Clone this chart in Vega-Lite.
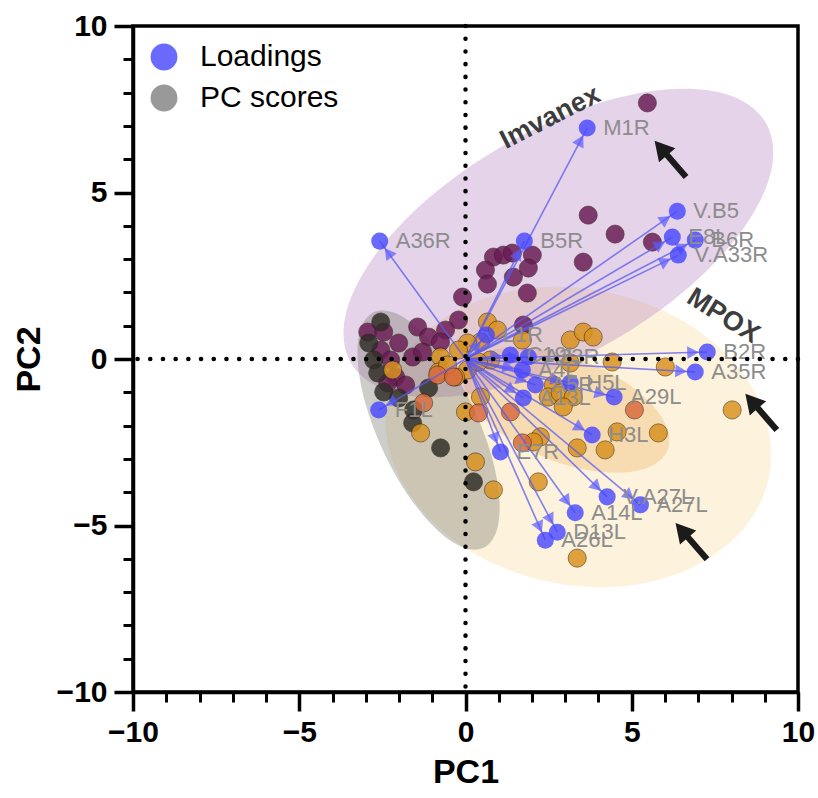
{
  "$schema": "https://vega.github.io/schema/vega-lite/v6.json",
  "width": 665,
  "height": 666,
  "autosize": {"type": "none"},
  "padding": {"left": 133, "top": 26, "right": 20, "bottom": 106},
  "background": "white",
  "config": {
    "font": "Liberation Sans",
    "view": {"stroke": "black", "strokeWidth": 3.5},
    "axis": {"grid": false, "domainColor": "black", "domainWidth": 3.5, "tickColor": "black", "tickWidth": 3, "labelColor": "black", "titleColor": "black"}
  },
  "datasets": {
    "ellPurple": [
      {"i": 0, "x": 9.034, "y": 7.087}, {"i": 1, "x": 7.916, "y": 7.929}, {"i": 2, "x": 6.016, "y": 8.090}, {"i": 3, "x": 3.629, "y": 7.555},
      {"i": 4, "x": 1.111, "y": 6.396}, {"i": 5, "x": -1.151, "y": 4.795}, {"i": 6, "x": -2.808, "y": 2.994}, {"i": 7, "x": -3.618, "y": 1.269},
      {"i": 8, "x": -3.448, "y": -0.121}, {"i": 9, "x": -2.330, "y": -0.963}, {"i": 10, "x": -0.430, "y": -1.124}, {"i": 11, "x": 1.957, "y": -0.589},
      {"i": 12, "x": 4.475, "y": 0.570}, {"i": 13, "x": 6.737, "y": 2.171}, {"i": 14, "x": 8.394, "y": 3.972}, {"i": 15, "x": 9.204, "y": 5.697}
    ],
    "ellYellow": [
      {"i": 0, "x": 9.124, "y": -3.561}, {"i": 1, "x": 9.042, "y": -1.805}, {"i": 2, "x": 8.098, "y": -0.134}, {"i": 3, "x": 6.441, "y": 1.203},
      {"i": 4, "x": 4.316, "y": 2.000}, {"i": 5, "x": 2.051, "y": 2.137}, {"i": 6, "x": -0.006, "y": 1.590}, {"i": 7, "x": -1.548, "y": 0.447},
      {"i": 8, "x": -2.338, "y": -1.123}, {"i": 9, "x": -2.256, "y": -2.879}, {"i": 10, "x": -1.312, "y": -4.550}, {"i": 11, "x": 0.345, "y": -5.887},
      {"i": 12, "x": 2.470, "y": -6.684}, {"i": 13, "x": 4.735, "y": -6.821}, {"i": 14, "x": 6.792, "y": -6.274}, {"i": 15, "x": 8.334, "y": -5.131}
    ],
    "ellOrange": [
      {"i": 0, "x": 6.077, "y": -2.733}, {"i": 1, "x": 6.065, "y": -2.086}, {"i": 2, "x": 5.590, "y": -1.354}, {"i": 3, "x": 4.728, "y": -0.649},
      {"i": 4, "x": 3.606, "y": -0.079}, {"i": 5, "x": 2.396, "y": 0.271}, {"i": 6, "x": 1.286, "y": 0.344}, {"i": 7, "x": 0.439, "y": 0.134},
      {"i": 8, "x": -0.011, "y": -0.331}, {"i": 9, "x": 0.001, "y": -0.978}, {"i": 10, "x": 0.476, "y": -1.710}, {"i": 11, "x": 1.338, "y": -2.415},
      {"i": 12, "x": 2.460, "y": -2.985}, {"i": 13, "x": 3.670, "y": -3.335}, {"i": 14, "x": 4.780, "y": -3.408}, {"i": 15, "x": 5.627, "y": -3.198}
    ],
    "ellGrey": [
      {"i": 0, "x": 0.540, "y": -5.669}, {"i": 1, "x": 0.936, "y": -5.157}, {"i": 2, "x": 1.018, "y": -4.184}, {"i": 3, "x": 0.779, "y": -2.900},
      {"i": 4, "x": 0.250, "y": -1.497}, {"i": 5, "x": -0.485, "y": -0.190}, {"i": 6, "x": -1.316, "y": 0.818}, {"i": 7, "x": -2.116, "y": 1.379},
      {"i": 8, "x": -2.762, "y": 1.405}, {"i": 9, "x": -3.158, "y": 0.893}, {"i": 10, "x": -3.240, "y": -0.080}, {"i": 11, "x": -3.001, "y": -1.364},
      {"i": 12, "x": -2.472, "y": -2.767}, {"i": 13, "x": -1.737, "y": -4.074}, {"i": 14, "x": -0.906, "y": -5.082}, {"i": 15, "x": -0.106, "y": -5.643}
    ],
    "loadings": [
      {"name": "M1R", "x": 3.66, "y": 6.94, "kind": "Loadings"},
      {"name": "A36R", "x": -2.58, "y": 3.54, "kind": "Loadings"},
      {"name": "B5R", "x": 1.77, "y": 3.54, "kind": "Loadings"},
      {"name": "V.B5", "x": 6.37, "y": 4.44, "kind": "Loadings"},
      {"name": "E8L", "x": 6.22, "y": 3.66, "kind": "Loadings"},
      {"name": "B6R", "x": 6.91, "y": 3.57, "kind": "Loadings"},
      {"name": "V.A33R", "x": 6.40, "y": 3.12, "kind": "Loadings"},
      {"name": "B2R", "x": 7.27, "y": 0.21, "kind": "Loadings"},
      {"name": "A35R", "x": 6.91, "y": -0.39, "kind": "Loadings"},
      {"name": "A29L", "x": 4.47, "y": -1.14, "kind": "Loadings"},
      {"name": "H3L", "x": 3.81, "y": -2.28, "kind": "Loadings"},
      {"name": "E7R", "x": 1.05, "y": -2.79, "kind": "Loadings"},
      {"name": "V.A27L", "x": 4.26, "y": -4.14, "kind": "Loadings"},
      {"name": "A27L", "x": 5.26, "y": -4.38, "kind": "Loadings"},
      {"name": "A14L", "x": 3.30, "y": -4.62, "kind": "Loadings"},
      {"name": "D13L", "x": 2.76, "y": -5.20, "kind": "Loadings"},
      {"name": "A26L", "x": 2.40, "y": -5.44, "kind": "Loadings"},
      {"name": "F1L", "x": -2.61, "y": -1.53, "kind": "Loadings"},
      {"name": "L1R", "x": 0.63, "y": 0.72, "kind": "Loadings"},
      {"name": "C19L", "x": 1.35, "y": 0.12, "kind": "Loadings"},
      {"name": "A33R", "x": 1.89, "y": 0.06, "kind": "Loadings"},
      {"name": "A4L", "x": 1.71, "y": -0.33, "kind": "Loadings"},
      {"name": "A5R", "x": 2.10, "y": -0.78, "kind": "Loadings"},
      {"name": "H5L", "x": 3.15, "y": -0.72, "kind": "Loadings"},
      {"name": "A13L", "x": 1.74, "y": -1.17, "kind": "Loadings"}
    ],
    "scores": [
      {"x": 5.47, "y": 7.69, "group": "Imvanex"}, {"x": 3.69, "y": 4.32, "group": "Imvanex"}, {"x": 4.50, "y": 3.75, "group": "Imvanex"},
      {"x": 5.62, "y": 3.51, "group": "Imvanex"}, {"x": 3.54, "y": 2.91, "group": "Imvanex"}, {"x": 0.84, "y": 3.06, "group": "Imvanex"},
      {"x": 1.14, "y": 3.12, "group": "Imvanex"}, {"x": 1.41, "y": 3.18, "group": "Imvanex"}, {"x": 2.01, "y": 3.12, "group": "Imvanex"},
      {"x": 0.60, "y": 2.67, "group": "Imvanex"}, {"x": 1.44, "y": 2.46, "group": "Imvanex"}, {"x": 1.89, "y": 2.73, "group": "Imvanex"},
      {"x": 0.66, "y": 2.25, "group": "Imvanex"}, {"x": 1.86, "y": 1.98, "group": "Imvanex"}, {"x": -0.09, "y": 1.86, "group": "Imvanex"},
      {"x": -0.21, "y": 1.17, "group": "Imvanex"}, {"x": 1.74, "y": 1.02, "group": "Imvanex"}, {"x": -1.44, "y": 0.96, "group": "Imvanex"},
      {"x": -0.60, "y": 0.87, "group": "Imvanex"}, {"x": -1.11, "y": 0.66, "group": "Imvanex"}, {"x": -0.75, "y": 0.51, "group": "Imvanex"},
      {"x": -1.59, "y": 0.06, "group": "Imvanex"}, {"x": -1.29, "y": 0.21, "group": "Imvanex"}, {"x": -2.10, "y": -0.54, "group": "Imvanex"},
      {"x": -1.80, "y": -0.78, "group": "Imvanex"}, {"x": -2.94, "y": 0.81, "group": "Imvanex"}, {"x": -2.46, "y": 0.81, "group": "Imvanex"},
      {"x": -2.55, "y": 0.27, "group": "Imvanex"}, {"x": -2.25, "y": -0.03, "group": "Imvanex"}, {"x": -2.34, "y": -0.72, "group": "Imvanex"},
      {"x": -2.01, "y": 0.48, "group": "Imvanex"},
      {"x": -2.55, "y": 1.11, "group": "Control"}, {"x": -2.91, "y": 0.48, "group": "Control"}, {"x": -2.76, "y": -0.03, "group": "Control"},
      {"x": -2.64, "y": -0.42, "group": "Control"}, {"x": -2.46, "y": -0.99, "group": "Control"}, {"x": -2.01, "y": -1.17, "group": "Control"},
      {"x": -1.11, "y": -0.87, "group": "Control"}, {"x": -1.56, "y": -1.53, "group": "Control"}, {"x": -1.59, "y": -1.92, "group": "Control"},
      {"x": -0.75, "y": -2.67, "group": "Control"}, {"x": 0.24, "y": -3.69, "group": "Control"},
      {"x": 0.66, "y": 1.11, "group": "MPOX"}, {"x": 0.96, "y": 0.87, "group": "MPOX"}, {"x": 0.75, "y": -0.03, "group": "MPOX"},
      {"x": 0.45, "y": 0.51, "group": "MPOX"}, {"x": 0.06, "y": 0.48, "group": "MPOX"}, {"x": -0.21, "y": 0.27, "group": "MPOX"},
      {"x": 0.06, "y": -0.33, "group": "MPOX"}, {"x": -0.30, "y": -0.54, "group": "MPOX"}, {"x": -0.75, "y": 0.06, "group": "MPOX"},
      {"x": -0.81, "y": -0.39, "group": "MPOX"}, {"x": -0.54, "y": -0.18, "group": "MPOX"}, {"x": -2.19, "y": -0.33, "group": "MPOX"},
      {"x": 1.71, "y": 0.57, "group": "MPOX"}, {"x": 3.15, "y": 0.57, "group": "MPOX"}, {"x": 3.54, "y": 0.81, "group": "MPOX"},
      {"x": 3.84, "y": 0.66, "group": "MPOX"}, {"x": 4.41, "y": -0.09, "group": "MPOX"}, {"x": 6.01, "y": -0.24, "group": "MPOX"},
      {"x": 3.15, "y": -0.12, "group": "MPOX"}, {"x": 2.64, "y": -0.78, "group": "MPOX"}, {"x": 2.49, "y": -1.14, "group": "MPOX"},
      {"x": 2.85, "y": -1.02, "group": "MPOX"}, {"x": 3.24, "y": -1.14, "group": "MPOX"}, {"x": 2.94, "y": -1.44, "group": "MPOX"},
      {"x": 0.45, "y": -1.14, "group": "MPOX"}, {"x": 0.00, "y": -1.59, "group": "MPOX"}, {"x": 4.56, "y": -2.19, "group": "MPOX"},
      {"x": 5.80, "y": -2.22, "group": "MPOX"}, {"x": 2.25, "y": -2.34, "group": "MPOX"}, {"x": 2.04, "y": -2.49, "group": "MPOX"},
      {"x": 3.36, "y": -2.67, "group": "MPOX"}, {"x": 4.20, "y": -2.73, "group": "MPOX"}, {"x": 8.02, "y": -1.53, "group": "MPOX"},
      {"x": 0.30, "y": -3.09, "group": "MPOX"}, {"x": 2.19, "y": -3.69, "group": "MPOX"}, {"x": 0.84, "y": -3.93, "group": "MPOX"},
      {"x": -1.35, "y": -2.22, "group": "MPOX"}, {"x": 3.36, "y": -5.98, "group": "MPOX"}, {"x": 0.39, "y": -0.09, "group": "MPOX"},
      {"x": -0.84, "y": -0.48, "group": "MPOX-b"}, {"x": -0.36, "y": -0.54, "group": "MPOX-b"}, {"x": -1.26, "y": -1.32, "group": "MPOX-b"},
      {"x": 0.39, "y": -1.62, "group": "MPOX-b"}, {"x": 1.35, "y": -1.59, "group": "MPOX-b"}, {"x": 5.08, "y": -1.53, "group": "MPOX-b"},
      {"x": 1.71, "y": -2.52, "group": "MPOX-b"}
    ],
    "pointers": [
      {"x": 6.16, "y": 6.01}, {"x": 8.89, "y": -1.59}, {"x": 6.79, "y": -5.47}
    ],
    "groupLabels": [
      {"label": "Imvanex", "x": 2.55, "y": 7.25},
      {"label": "MPOX", "x": 7.75, "y": 1.29}
    ]
  },
  "layer": [
    {
      "encoding": {
        "x": {"field": "x", "type": "quantitative", "scale": {"domain": [-10, 10], "nice": false, "zero": false},
          "axis": {"orient": "bottom", "values": [-10, -5, 0, 5, 10], "tickSize": 19, "tickWidth": 3.5, "labelFontSize": 30, "labelFontWeight": "bold", "labelPadding": 6, "labelFlush": false, "title": "PC1", "titleFontSize": 34, "titleFontWeight": "bold", "titlePadding": 8}},
        "y": {"field": "y", "type": "quantitative", "scale": {"domain": [-10, 10], "nice": false, "zero": false},
          "axis": {"orient": "left", "values": [-10, -5, 0, 5, 10], "tickSize": 19, "tickWidth": 3.5, "labelFontSize": 30, "labelFontWeight": "bold", "labelPadding": 7, "labelFlush": false, "title": "PC2", "titleFontSize": 34, "titleFontWeight": "bold", "titlePadding": 10}}
      },
      "layer": [
        {"data": {"name": "ellYellow"}, "mark": {"type": "line", "interpolate": "cardinal-closed", "fill": "#f8d890", "fillOpacity": 0.32, "stroke": "#f8d890", "strokeOpacity": 0}, "encoding": {"order": {"field": "i", "type": "quantitative"}}},
        {"data": {"name": "ellOrange"}, "mark": {"type": "line", "interpolate": "cardinal-closed", "fill": "#f0a850", "fillOpacity": 0.3, "stroke": "#f0a850", "strokeOpacity": 0}, "encoding": {"order": {"field": "i", "type": "quantitative"}}},
        {"data": {"name": "ellPurple"}, "mark": {"type": "line", "interpolate": "cardinal-closed", "fill": "#b580c0", "fillOpacity": 0.35, "stroke": "#b580c0", "strokeOpacity": 0}, "encoding": {"order": {"field": "i", "type": "quantitative"}}},
        {"data": {"name": "ellGrey"}, "mark": {"type": "line", "interpolate": "cardinal-closed", "fill": "#7c7c74", "fillOpacity": 0.38, "stroke": "#7c7c74", "strokeOpacity": 0}, "encoding": {"order": {"field": "i", "type": "quantitative"}}},
        {"data": {"name": "scores"}, "mark": {"type": "point", "filled": true, "size": 330, "opacity": 0.84, "stroke": "#2a1a10", "strokeWidth": 1, "strokeOpacity": 0.6},
          "encoding": {"fill": {"field": "group", "type": "nominal", "scale": {"domain": ["Imvanex", "MPOX", "MPOX-b", "Control"], "range": ["#6a1c55", "#d9921f", "#d86a3e", "#302e27"]}, "legend": null}}},
        {"data": {"name": "loadings"}, "mark": {"type": "rule", "color": "#5a5af0", "strokeWidth": 1.6, "opacity": 0.75}, "encoding": {"x2": {"datum": 0}, "y2": {"datum": 0}}},
        {"data": {"name": "loadings"}, "transform": [{"calculate": "atan2(datum.x, datum.y) * 180 / PI", "as": "ang"}],
          "mark": {"type": "point", "shape": "M0,0.42L0.32,1L-0.32,1Z", "filled": true, "color": "#5a5aff", "opacity": 0.7, "size": 1600, "strokeWidth": 0},
          "encoding": {"angle": {"field": "ang", "type": "quantitative", "scale": null}}},
        {"data": {"name": "loadings"}, "mark": {"type": "point", "filled": true, "size": 290, "opacity": 0.8, "strokeWidth": 0},
          "encoding": {"color": {"field": "kind", "type": "nominal", "scale": {"domain": ["Loadings", "PC scores"], "range": ["#4545ff", "#808080"]},
            "legend": {"orient": "top-left", "offset": 16, "padding": 0, "title": null, "symbolType": "circle", "symbolSize": 720, "symbolStrokeWidth": 0, "labelFontSize": 30, "labelColor": "black", "labelOffset": 21, "rowPadding": 11}}}},
        {"data": {"name": "loadings"}, "mark": {"type": "text", "align": "left", "baseline": "middle", "dx": 16, "fontSize": 22, "color": "#8c8c8c"}, "encoding": {"text": {"field": "name"}}},
        {"data": {"name": "groupLabels"}, "transform": [{"filter": "datum.label === 'Imvanex'"}], "mark": {"type": "text", "angle": 333, "fontSize": 27, "fontWeight": "bold", "color": "#3d3d3d"}, "encoding": {"text": {"field": "label"}}},
        {"data": {"name": "groupLabels"}, "transform": [{"filter": "datum.label === 'MPOX'"}], "mark": {"type": "text", "angle": 32, "fontSize": 27, "fontWeight": "bold", "color": "#3d3d3d"}, "encoding": {"text": {"field": "label"}}},
        {"data": {"name": "pointers"}, "mark": {"type": "point", "shape": "M-0.13,1L0.13,1L0.13,-0.2L0.45,-0.2L0,-1L-0.45,-0.2L-0.13,-0.2Z", "filled": true, "color": "#1b1b1b", "opacity": 1, "size": 2304, "angle": 319, "strokeWidth": 0}}
      ]
    },
    {
      "data": {"values": [{}]},
      "mark": {"type": "rule", "color": "black", "strokeWidth": 4.5, "strokeDash": [0.1, 12.6], "strokeCap": "round"},
      "encoding": {"x": {"datum": 0, "type": "quantitative", "scale": {"domain": [-10, 10], "nice": false, "zero": false},
        "axis": {"orient": "bottom", "values": [-10, -9, -8, -7, -6, -5, -4, -3, -2, -1, 0, 1, 2, 3, 4, 5, 6, 7, 8, 9, 10], "tickSize": 10, "tickWidth": 3, "labels": false, "domain": false, "title": null, "grid": false}}}
    },
    {
      "data": {"values": [{}]},
      "mark": {"type": "rule", "color": "black", "strokeWidth": 4.5, "strokeDash": [0.1, 12.6], "strokeCap": "round"},
      "encoding": {"y": {"datum": 0, "type": "quantitative", "scale": {"domain": [-10, 10], "nice": false, "zero": false},
        "axis": {"orient": "left", "values": [-10, -9, -8, -7, -6, -5, -4, -3, -2, -1, 0, 1, 2, 3, 4, 5, 6, 7, 8, 9, 10], "tickSize": 10, "tickWidth": 3, "labels": false, "domain": false, "title": null, "grid": false}}}
    }
  ],
  "resolve": {"axis": {"x": "independent", "y": "independent"}}
}
